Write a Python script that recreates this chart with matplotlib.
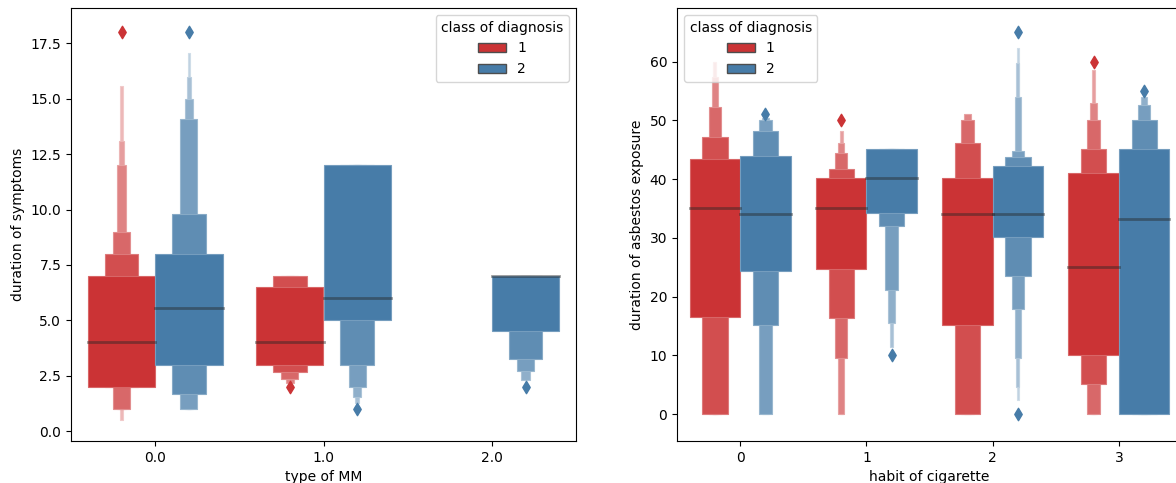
import matplotlib.pyplot as plt
import matplotlib.patches as mpatches
import numpy as np
from matplotlib.colors import to_rgb
import colorsys

# letter-value boxes, innermost level first: (lows, highs), plus median and outliers
# left panel: duration of symptoms by type of MM
mm_ticks = [0.0, 1.0, 2.0]
mm_diag1 = {
    0: dict(lows=[2.0, 2.0, 1.0, 1.0, 1.0, 0.5], highs=[7.0, 8.0, 9.0, 12.0, 13.1, 15.6], median=4.0, fliers=[18.0]),
    1: dict(lows=[3.0, 2.67, 2.33, 2.17], highs=[6.5, 7.0, 7.0, 7.0], median=4.0, fliers=[2.0]),
}
mm_diag2 = {
    0: dict(lows=[3.0, 1.67, 1.0, 1.0, 1.0, 1.0], highs=[8.0, 9.8, 14.1, 15.0, 16.0, 17.06], median=5.55, fliers=[18.0]),
    1: dict(lows=[5.0, 3.0, 2.0, 1.55, 1.26], highs=[12.0, 12.0, 12.0, 12.0, 12.0], median=6.0, fliers=[1.0]),
    2: dict(lows=[4.5, 3.25, 2.7, 2.3], highs=[7.0, 7.0, 7.0, 7.0], median=7.0, fliers=[2.0]),
}

# right panel: duration of asbestos exposure by habit of cigarette
cig_ticks = [0, 1, 2, 3]
cig_diag1 = {
    0: dict(lows=[16.6, 0, 0, 0, 0], highs=[43.5, 47.2, 52.2, 57.4, 60.0], median=35.0, fliers=[]),
    1: dict(lows=[24.7, 16.3, 9.5, 0, 0], highs=[40.1, 41.7, 44.4, 46.1, 48.1], median=35.0, fliers=[50.0]),
    2: dict(lows=[15.2, 0, 0, 0], highs=[40.1, 46.1, 50.1, 51.0], median=34.1, fliers=[]),
    3: dict(lows=[10.1, 5.1, 0, 0, 0], highs=[41.1, 45.1, 50.1, 53.0, 58.5], median=25.1, fliers=[60.0]),
}
cig_diag2 = {
    0: dict(lows=[24.3, 15.2, 0, 0], highs=[44.0, 48.1, 50.1, 50.4], median=34.1, fliers=[51.0]),
    1: dict(lows=[34.2, 32.1, 21.1, 15.6, 11.5], highs=[45.1, 45.1, 45.1, 45.1, 45.1], median=40.2, fliers=[10.0]),
    2: dict(lows=[30.1, 23.5, 17.9, 9.5, 4.7, 2.4], highs=[42.2, 43.8, 44.8, 53.9, 59.7, 62.3], median=34.1, fliers=[65.0, 0.0]),
    3: dict(lows=[0, 0, 0, 0], highs=[45.1, 50.1, 52.6, 54.0], median=33.2, fliers=[55.0]),
}


def desaturate(color, prop):
    h, l, s = colorsys.rgb_to_hls(*to_rgb(color))
    return colorsys.hls_to_rgb(h, l, s * prop)


def mix(c1, c2, t):
    c1, c2 = np.array(to_rgb(c1)), np.array(to_rgb(c2))
    return tuple(c1 * (1 - t) + c2 * t)


red = desaturate('#e41a1c', 0.75)
blue = desaturate('#377eb8', 0.75)


def drawBoxen(ax, x, group, color, width=0.4):
    k = len(group['lows'])
    # narrowest (outermost) level first so wider boxes sit on top
    for i in reversed(range(k)):
        lo, hi = group['lows'][i], group['highs'][i]
        w = width * 0.5 ** i
        face = mix(color, 'white', min(0.13 * i, 0.85))
        rect = mpatches.Rectangle((x - w / 2, lo), w, hi - lo, facecolor=face,
                                  edgecolor=mix(face, 'white', 0.25), linewidth=0.8)
        ax.add_patch(rect)
    ax.plot([x - width / 2, x + width / 2], [group['median']] * 2, color='0.15', alpha=0.45, linewidth=2)
    if group['fliers']:
        ax.scatter([x] * len(group['fliers']), group['fliers'], marker='d', s=40, color=color, zorder=3)


def plotPanel(ax, ticks, diag1, diag2):
    for pos in range(len(ticks)):
        if pos in diag1:
            drawBoxen(ax, pos - 0.2, diag1[pos], red)
        if pos in diag2:
            drawBoxen(ax, pos + 0.2, diag2[pos], blue)
    ax.set_xlim(-0.5, len(ticks) - 0.5)
    ax.set_xticks(range(len(ticks)))
    ax.set_xticklabels([str(t) for t in ticks])


fig = plt.figure(figsize=(11.76, 4.83), dpi=100)
ax1 = fig.add_axes([71 / 1176, 42 / 483, 505 / 1176, 433 / 483])
ax2 = fig.add_axes([677 / 1176, 42 / 483, 505 / 1176, 433 / 483])

plotPanel(ax1, mm_ticks, mm_diag1, mm_diag2)
ax1.set_ylim(-0.45, 19.1)
ax1.set_yticks(np.arange(0, 17.6, 2.5))
ax1.set_xlabel('type of MM')
ax1.set_ylabel('duration of symptoms')

plotPanel(ax2, cig_ticks, cig_diag1, cig_diag2)
ax2.set_ylim(-4.55, 69.1)
ax2.set_yticks(range(0, 61, 10))
ax2.set_xlabel('habit of cigarette')
ax2.set_ylabel('duration of asbestos exposure')

handles = [mpatches.Patch(facecolor=red, edgecolor='0.3', label='1'),
           mpatches.Patch(facecolor=blue, edgecolor='0.3', label='2')]
ax1.legend(handles=handles, title='class of diagnosis', loc='upper right')
ax2.legend(handles=handles, title='class of diagnosis', loc='upper left')

plt.savefig('out.png', dpi=100)
